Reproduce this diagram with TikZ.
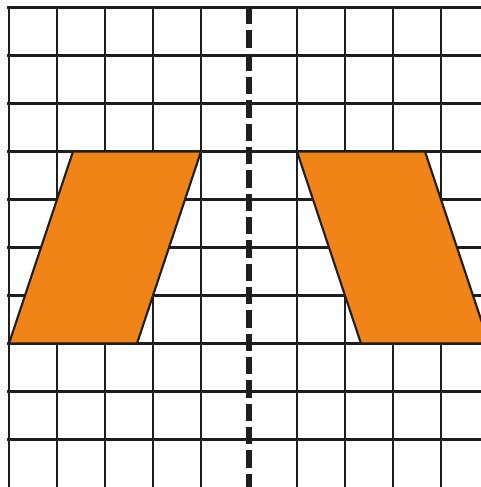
\documentclass[tikz,border=0pt]{standalone}
\usetikzlibrary{calc}
\definecolor{gridline}{HTML}{1E1E1E}
\definecolor{shapefill}{HTML}{F08417}
\tikzset{
  gridln/.style={draw=gridline, line width=2.0pt},
  axisln/.style={draw=gridline, line width=4.5pt, dash pattern=on 13pt off 4.5pt},
  para/.style={fill=shapefill, draw=gridline, line width=1.6pt, line join=miter}
}
\begin{document}
\begin{tikzpicture}[x=0.75pt, y=-0.75pt]
\useasboundingbox (0,0) rectangle (481,487);
\begin{scope}
\clip (0,0) rectangle (481,487);
% grid
\foreach \k in {0,1,2,3,4,6,7,8,9} {
  \draw[gridln] ({9+48*\k},7.5) -- ({9+48*\k},490);
}
\foreach \k in {0,...,9} {
  \draw[gridln] (7.5,{7.5+48*\k}) -- (490,{7.5+48*\k});
}
% shapes
\coordinate (a1) at (9,343.5);
\coordinate (a2) at (73,151.5);
\coordinate (a3) at (201,151.5);
\coordinate (a4) at (137,343.5);
\coordinate (b1) at (297,151.5);
\coordinate (b2) at (425,151.5);
\coordinate (b3) at (489,343.5);
\coordinate (b4) at (361,343.5);
\draw[para] (a1) -- (a2) -- (a3) -- (a4) -- cycle;
\draw[para] (b1) -- (b2) -- (b3) -- (b4) -- cycle;
% axis of symmetry
\coordinate (top) at (249,7);
\coordinate (bot) at (249,490);
\draw[axisln] (top) -- (bot);
\end{scope}
\end{tikzpicture}
\end{document}
